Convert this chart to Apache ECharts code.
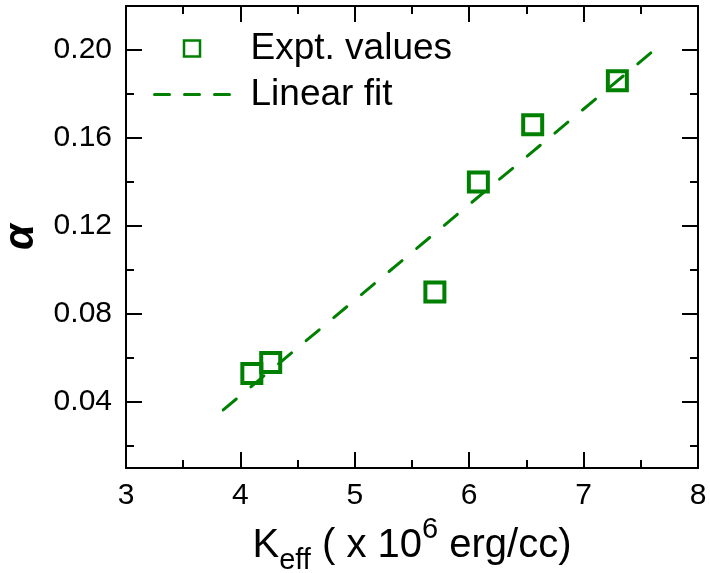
<!DOCTYPE html>
<html>
<head>
<meta charset="utf-8">
<script src="https://cdn.jsdelivr.net/npm/echarts@6/dist/echarts.min.js"></script>
<style>html,body{margin:0;padding:0;background:#fff}#c{width:710px;height:573px}</style>
</head>
<body>
<div id="c"></div>
<script>
const exptX = [4.10, 4.265, 5.70, 6.08, 6.555, 7.295];
const exptY = [0.053, 0.058, 0.090, 0.140, 0.166, 0.186];
const fitX = [3.85, 7.60];
const fitY = [0.0364, 0.1992];
const yMajorTicks = [0.04, 0.08, 0.12, 0.16, 0.20];
const yMinorTicks = [0.02, 0.06, 0.10, 0.14, 0.18];
const xTicks = [3, 4, 5, 6, 7, 8];

const GREEN = '#008000';
const FONT = 'Liberation Sans, Arial, sans-serif';
const chart = echarts.init(document.getElementById('c'), null, {renderer: 'canvas'});

const yBase = (pos, ticks, len, showLine, showLabel, name) => ({
  type: 'value', position: pos, min: 0.01, max: 0.22, interval: 0.01,
  name: name || '',
  nameLocation: 'middle', nameRotate: 90, nameGap: 74,
  nameTextStyle: {fontFamily: FONT, fontSize: 42, fontWeight: 'bold', fontStyle: 'italic', color: '#000'},
  axisLine: {show: showLine, lineStyle: {color: '#000', width: 2}},
  axisTick: {show: true, inside: true, length: len, customValues: ticks, lineStyle: {color: '#000', width: 2}},
  axisLabel: {show: showLabel, customValues: yMajorTicks, fontFamily: FONT, fontSize: 30, color: '#000', margin: 14,
    formatter: v => v.toFixed(2)},
  splitLine: {show: false}
});

const xBase = (pos, showLabel) => ({
  type: 'value', position: pos, min: xTicks[0], max: xTicks[xTicks.length - 1], interval: 1,
  axisLine: {show: true, lineStyle: {color: '#000', width: 2}},
  axisTick: {show: true, inside: true, length: 16, lineStyle: {color: '#000', width: 2}},
  minorTick: {show: true, splitNumber: 2, length: 8, lineStyle: {color: '#000', width: 2}},
  axisLabel: {show: showLabel, fontFamily: FONT, fontSize: 30, color: '#000', margin: 13},
  splitLine: {show: false}, minorSplitLine: {show: false}
});

const xAxisBottom = xBase('bottom', true);
xAxisBottom.name = '{a|K}{sub|eff}{a| ( x 10}{sup|6}{a| erg/cc)}';
xAxisBottom.nameLocation = 'middle';
xAxisBottom.nameGap = 41;
xAxisBottom.nameTextStyle = {
  fontFamily: FONT, color: '#000',
  rich: {
    a: {fontFamily: FONT, fontSize: 40, lineHeight: 60, color: '#000'},
    sub: {fontFamily: FONT, fontSize: 29, lineHeight: 28, verticalAlign: 'bottom', color: '#000'},
    sup: {fontFamily: FONT, fontSize: 29, lineHeight: 28, verticalAlign: 'top', color: '#000'}
  }
};

chart.setOption({
  animation: false,
  backgroundColor: '#fff',
  grid: {left: 126, right: 12, top: 6, bottom: 105, containLabel: false, outerBoundsMode: 'none'},
  legend: {
    orient: 'vertical', left: 148, top: 25,
    itemWidth: 75, itemHeight: 16, itemGap: 9,
    symbolKeepAspect: true,
    textStyle: {fontFamily: FONT, fontSize: 37, color: '#000', padding: [0, 0, 0, 16]},
    data: [
      {name: 'Expt. values', icon: 'path://M0,0L10,0L10,10L0,10Z',
        itemStyle: {color: 'rgba(0,0,0,0)', borderColor: GREEN, borderWidth: 2.5}},
      {name: 'Linear fit', itemStyle: {opacity: 0},
        lineStyle: {color: GREEN, width: 3, type: [15, 15]}}
    ]
  },
  xAxis: [xAxisBottom, xBase('top', false)],
  yAxis: [
    yBase('left', yMajorTicks, 16, true, true, 'α'),
    yBase('left', yMinorTicks, 8, false, false),
    yBase('right', yMajorTicks, 16, true, false),
    yBase('right', yMinorTicks, 8, false, false)
  ],
  series: [
    {
      name: 'Linear fit', type: 'line', xAxisIndex: 0, yAxisIndex: 0,
      data: fitX.map((x, i) => [x, fitY[i]]),
      symbol: 'none', showSymbol: false,
      lineStyle: {color: GREEN, width: 3, type: [17, 19], cap: 'round'},
      itemStyle: {color: GREEN},
      z: 2
    },
    {
      name: 'Expt. values', type: 'scatter', xAxisIndex: 0, yAxisIndex: 0,
      data: exptX.map((x, i) => [x, exptY[i]]),
      symbol: 'rect', symbolSize: 19,
      itemStyle: {color: 'rgba(0,0,0,0)', borderColor: GREEN, borderWidth: 4, opacity: 1},
      z: 3
    }
  ]
});
</script>
</body>
</html>
